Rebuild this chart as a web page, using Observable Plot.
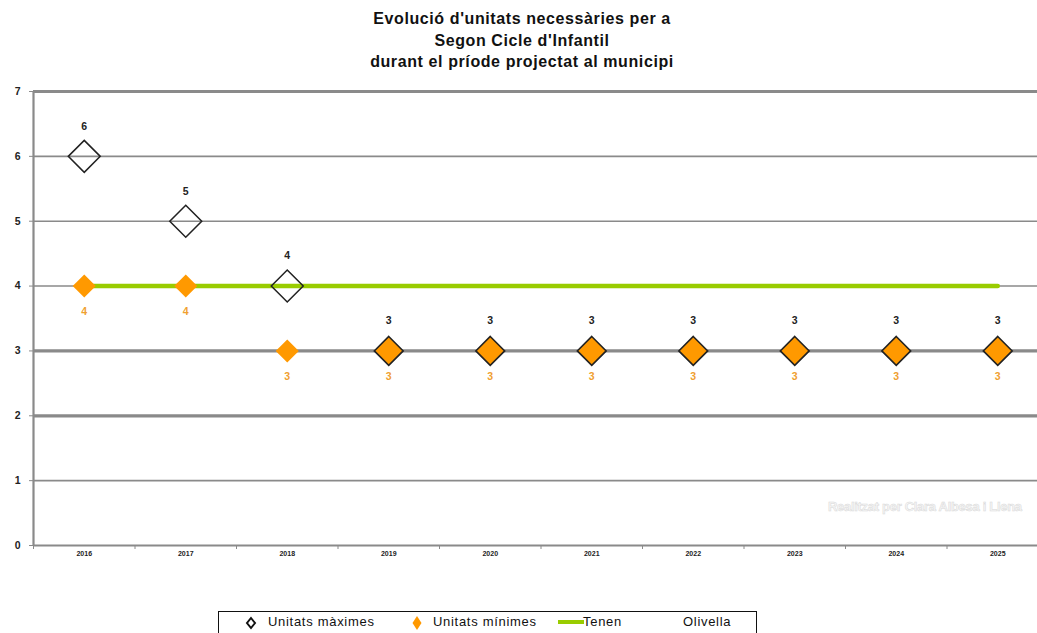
<!DOCTYPE html>
<html>
<head>
<meta charset="utf-8">
<script src="https://cdn.jsdelivr.net/npm/d3@7"></script>
<script src="https://cdn.jsdelivr.net/npm/@observablehq/plot@0.6"></script>
<style>
  html, body { margin: 0; padding: 0; background: #fff; overflow: hidden; width: 1037px; height: 633px; }
  #wrap { position: relative; width: 1037px; height: 633px; overflow: hidden; font-family: "Liberation Sans", Arial, sans-serif; }
  #title { position: absolute; left: 0; top: 8px; width: 1044px; text-align: center; font-weight: bold; font-size: 16px; letter-spacing: 0.6px; line-height: 21.5px; color: #111; }
  #chart { position: absolute; left: 0; top: 0; width: 1060px; }
  #chart svg { max-width: none !important; }
  #mark { position: absolute; left: 828px; top: 499px; font-size: 13px; font-weight: bold; color: #f6f6f6; -webkit-text-stroke: 0.5px #d8d8d8; letter-spacing: -0.3px; }
  #legend { position: absolute; left: 218px; top: 611px; width: 537px; height: 40px; border: 1.5px solid #111; font-size: 13px; letter-spacing: 0.7px; color: #111; }
  #legend .it { position: absolute; top: 2px; white-space: nowrap; }
  #legend svg { position: absolute; }
</style>
</head>
<body>
<div id="wrap">
  <div id="chart"></div>
  <div id="title"></div>
  <div id="mark"></div>
  <div id="legend"></div>
</div>
<script>
// ---- data ----
const years = [2016, 2017, 2018, 2019, 2020, 2021, 2022, 2023, 2024, 2025];
const maxUnits = [6, 5, 4, 3, 3, 3, 3, 3, 3, 3];
const minUnits = [4, 4, 3, 3, 3, 3, 3, 3, 3, 3];
const tenen = [4, 4, 4, 4, 4, 4, 4, 4, 4, 4];
const yTicks = [0, 1, 2, 3, 4, 5, 6, 7];
const titleLines = ["Evolució d'unitats necessàries per a", "Segon  Cicle d'Infantil", "durant el príode projectat al municipi"];
const seriesNames = ["Unitats màximes", "Unitats mínimes", "Tenen", "Olivella"];
const watermark = "Realitzat per Clara Albesa i Llena";

const orange = "#ff9900";
const green = "#99cc00";
const grid = "#8a8a8a";

const data = years.map((y, i) => ({year: y, max: maxUnits[i], min: minUnits[i], tenen: tenen[i]}));
const boundaries = [years[0] - 0.5, ...years.map(y => y + 0.5)];

document.getElementById("title").innerHTML = titleLines.join("<br>");
document.getElementById("mark").textContent = watermark;

const plot = Plot.plot({
  width: 1060,
  height: 575,
  marginLeft: 33,
  marginRight: 12,
  marginTop: 91,
  marginBottom: 30,
  style: {fontFamily: "Liberation Sans, Arial, sans-serif", background: "transparent", maxWidth: "none"},
  x: {type: "linear", domain: [years[0] - 0.5, years[years.length - 1] + 0.5]},
  y: {domain: [0, 7]},
  marks: [
    Plot.ruleY(yTicks, {y: d => d, stroke: grid, strokeOpacity: 1, strokeWidth: d => (d === 7 || d === 3 || d === 2) ? 3.2 : (d === 0 ? 2.2 : 1.6)}),
    Plot.ruleX([years[0] - 0.5], {stroke: grid, strokeWidth: 2.2}),
    Plot.axisY({ticks: yTicks, tickSize: 4, tickPadding: 9, fontSize: 10.5, fontWeight: "bold", stroke: grid, color: "#222", label: null, tickFormat: d => d}),
    Plot.axisX({ticks: boundaries, tickSize: 4, tickFormat: () => "", stroke: grid, label: null}),
    Plot.axisX({ticks: years, tickSize: 0, tickPadding: 6, fontSize: 7, fontWeight: "bold", color: "#222", tickFormat: d => String(d), label: null}),
    Plot.line(data, {x: "year", y: "tenen", stroke: green, strokeWidth: 4.5}),
    Plot.dot(data, {x: "year", y: "min", symbol: "diamond2", r: 10.4, fill: orange}),
    Plot.dot(data, {x: "year", y: "max", filter: d => d.max !== d.min, symbol: "diamond2", r: 14.4, fill: "none", stroke: "#222", strokeWidth: 1.5}),
    Plot.dot(data, {x: "year", y: "max", filter: d => d.max === d.min, symbol: "diamond2", r: 13, fill: orange, stroke: "#222", strokeWidth: 1.6}),
    Plot.text(data, {x: "year", y: "max", text: d => String(d.max), dy: -30, fontSize: 10.5, fontWeight: "bold", fill: "#222"}),
    Plot.text(data, {x: "year", y: "min", text: d => String(d.min), dy: 26, fontSize: 10.5, fontWeight: "bold", fill: "#f0a030"})
  ]
});
document.getElementById("chart").appendChild(plot);

// ---- legend ----
const lg = document.getElementById("legend");
const NS = "http://www.w3.org/2000/svg";
function svgIcon(left, top, w, h, inner) {
  const s = document.createElementNS(NS, "svg");
  s.setAttribute("width", w); s.setAttribute("height", h);
  s.style.left = left + "px"; s.style.top = top + "px";
  s.innerHTML = inner;
  lg.appendChild(s);
}
function label(left, text) {
  const d = document.createElement("div");
  d.className = "it"; d.style.left = left + "px"; d.textContent = text;
  lg.appendChild(d);
}
svgIcon(26, 4, 12, 14, '<path d="M6 2 L10 7 L6 12 L2 7 Z" fill="none" stroke="#111" stroke-width="2"/>');
label(49, seriesNames[0]);
svgIcon(192, 3, 12, 16, '<path d="M6 1 L10.5 8 L6 15 L1.5 8 Z" fill="' + orange + '"/>');
label(214, seriesNames[1]);
svgIcon(338, 6, 28, 8, '<line x1="1" y1="4" x2="27" y2="4" stroke="' + green + '" stroke-width="4"/>');
label(364, seriesNames[2]);
label(464, seriesNames[3]);
</script>
</body>
</html>
